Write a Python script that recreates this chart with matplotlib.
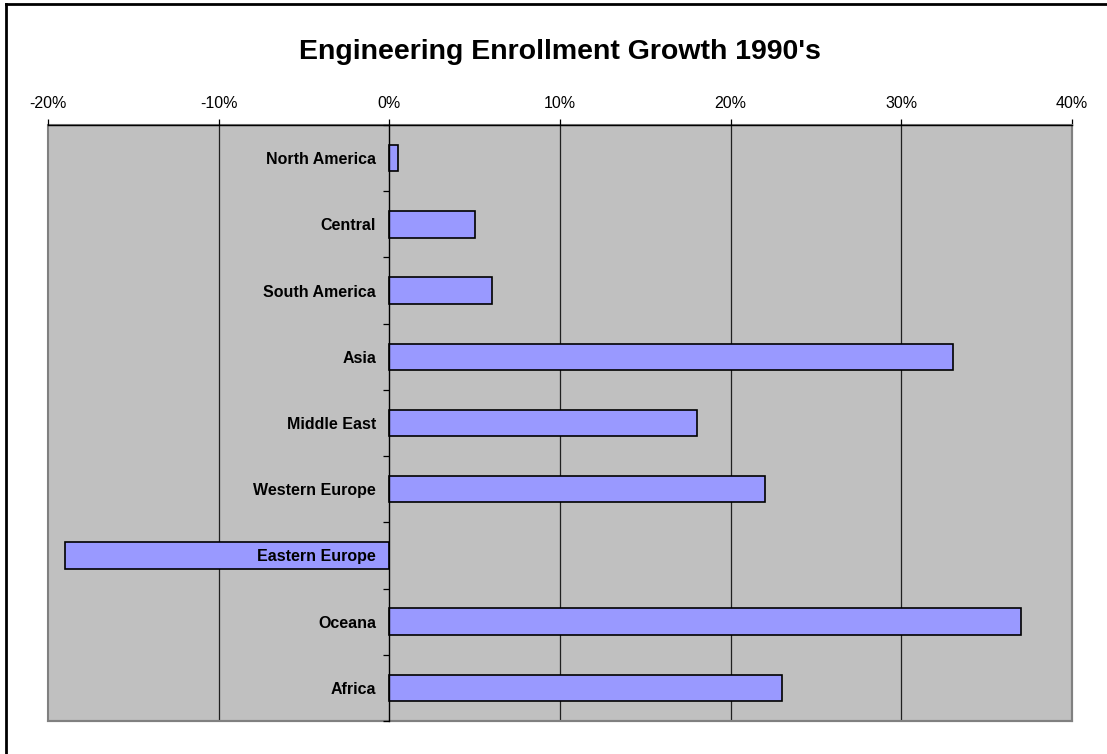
import matplotlib
matplotlib.use("Agg")
import matplotlib.pyplot as plt
from matplotlib.lines import Line2D
from matplotlib.patches import Rectangle
from matplotlib.ticker import FixedLocator, FuncFormatter

plt.rcParams['font.family'] = ['Liberation Sans', 'DejaVu Sans']

regions = ["North America", "Central", "South America", "Asia", "Middle East",
           "Western Europe", "Eastern Europe", "Oceana", "Africa"]
growth_pct = [0.5, 5, 6, 33, 18, 22, -19, 37, 23]
x_ticks = [-20, -10, 0, 10, 20, 30, 40]

W, H = 1107, 754
fig = plt.figure(figsize=(W / 100, H / 100), dpi=100)
ax = fig.add_axes([48 / W, (H - 721) / H, 1024 / W, 596 / H])

ax.set_facecolor("#C0C0C0")
ypos = list(range(len(regions)))
ax.barh(ypos, growth_pct, height=0.4, color="#9999FF", edgecolor="black",
        linewidth=1.2, zorder=1.0)

ax.set_xlim(-20, 40)
ax.set_ylim(len(regions) - 0.5, -0.5)

# vertical gridlines behind the bars
for t in x_ticks[1:-1]:
    if t != 0:
        ax.axvline(t, color="#202020", linewidth=0.9, zorder=0.6)

# x axis on top
ax.xaxis.set_ticks_position("top")
ax.xaxis.set_label_position("top")
ax.xaxis.set_major_locator(FixedLocator(x_ticks))
ax.xaxis.set_major_formatter(FuncFormatter(lambda v, p: f"{v:.0f}%"))
ax.tick_params(axis="x", which="major", direction="out", length=4, width=0.9,
               color="black", labelsize=11.5, pad=6)

# category axis drawn at x = 0, labels above the bars
ax.yaxis.set_zorder(3)
ax.spines["left"].set_position(("data", 0))
ax.spines["left"].set_color("black")
ax.spines["left"].set_linewidth(1.0)
ax.spines["left"].set_zorder(3)
boundaries = [i - 0.5 for i in range(len(regions) + 1)]
ax.yaxis.set_major_locator(FixedLocator(boundaries))
ax.yaxis.set_major_formatter(FuncFormatter(lambda v, p: ""))
ax.yaxis.set_minor_locator(FixedLocator(ypos))
ax.yaxis.set_minor_formatter(FuncFormatter(lambda v, p: regions[int(round(v))]))
ax.tick_params(axis="y", which="major", direction="out", length=4, width=0.9,
               color="black")
ax.tick_params(axis="y", which="minor", length=0, pad=9.5, labelsize=11.5)
for lbl in ax.yaxis.get_minorticklabels():
    lbl.set_fontweight("bold")

# plot frame
for s in ("right", "bottom"):
    ax.spines[s].set_color("#808080")
    ax.spines[s].set_linewidth(1.5)
ax.spines["top"].set_color("black")
ax.spines["top"].set_linewidth(1.0)
ax.add_patch(Rectangle((0, 0), 1, 1, transform=ax.transAxes, fill=False,
                       edgecolor="#808080", linewidth=1.5, zorder=0.7,
                       clip_on=False))

fig.text(560 / W, 1 - 52 / H, "Engineering Enrollment Growth 1990's",
         ha="center", va="center", fontsize=20.5, fontweight="bold")

# outer chart border
fig.add_artist(Line2D([6 / W, 1.0], [1 - 4 / H, 1 - 4 / H], color="black",
                      linewidth=2, transform=fig.transFigure))
fig.add_artist(Line2D([6 / W, 6 / W], [0.0, 1 - 4 / H], color="black",
                      linewidth=2, transform=fig.transFigure))

fig.savefig("out.png", dpi=100)
